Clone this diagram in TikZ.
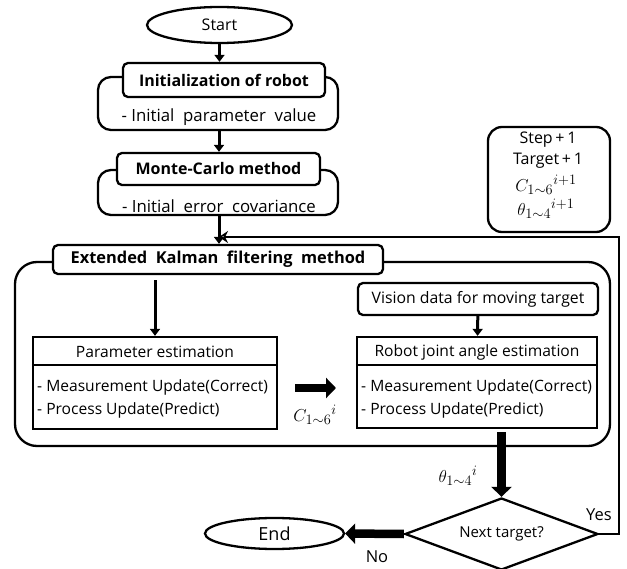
\documentclass[tikz,border=0pt]{standalone}
\usepackage{fontspec}
\setmainfont{Open Sans}
\usetikzlibrary{arrows.meta,shapes.geometric}
\newcommand{\fs}[1]{\fontsize{#1}{#1}\selectfont}
\begin{document}
\begin{tikzpicture}[x=1pt,y=-1pt,
  every node/.style={inner sep=0pt,font=\fs{15}},
  frame/.style={draw,line width=2.3pt,rounded corners=13pt},
  headbox/.style={draw,line width=2.3pt,rounded corners=5pt,fill=white,font=\bfseries\fs{16}},
  termbox/.style={draw,ellipse,line width=2.3pt},
  plainbox/.style={draw,line width=2.3pt},
  arr/.style={line width=3pt,-{Triangle[width=10pt,length=7pt]}},
  bigarr/.style={line width=8.5pt,-{Triangle[width=20pt,length=10pt]}},
  loopline/.style={line width=2.3pt,-{Stealth[width=12pt,length=9pt,open]}},
  txt/.style={font=\fs{16.8}},
  smalltxt/.style={font=\fs{15.6}},
  mathlab/.style={font=\fs{19}},
]
\useasboundingbox (0,0) rectangle (627,569);

% Start
\node[termbox,minimum width=145pt,minimum height=36pt,font=\fs{16}] (start) at (219.5,25) {Start};

% Initialization block
\node[frame,minimum width=240pt,minimum height=53pt] (initbox) at (218,103.5) {};
\node[headbox,minimum width=202pt,minimum height=34pt] (inithead) at (224,80) {Initialization of robot};
\node[txt] (inittxt) at (219,117) {-\ Initial\ \ parameter\ \ value};

% Monte-Carlo block
\node[frame,minimum width=240pt,minimum height=45pt] (mcbox) at (218,192.5) {};
\node[headbox,minimum width=203pt,minimum height=32pt] (mchead) at (218.5,169) {Monte-Carlo method};
\node[txt] (mctxt) at (219,206) {-\ Initial\ \ error\ \ covariance};

% Update box
\node[frame,rounded corners=14pt,minimum width=122pt,minimum height=105pt] (stepbox) at (549,179.5) {};
\node[font=\fs{16}] (s1) at (548,140) {Step\,+\,1};
\node[font=\fs{16}] (s2) at (548,161) {Target\,+\,1};
\node[mathlab] (s3) at (546,185) {${C_{1\sim 6}}^{i+1}$};
\node[mathlab] (s4) at (546,209) {${\theta_{1\sim 4}}^{i+1}$};

% Extended Kalman filter block
\node[frame,rounded corners=22pt,minimum width=595pt,minimum height=184pt] (ekfbox) at (312.5,354) {};
\node[headbox,minimum width=330pt,minimum height=29pt,font=\bfseries\fs{16.4}] (ekfhead) at (218,259.5) {Extended\ \ Kalman\ \ filtering\ \ method};

\node[draw,line width=2.3pt,rounded corners=5pt,minimum width=240pt,minimum height=32pt,font=\fs{15.8}] (vision) at (478,299) {Vision data for moving target};

% Parameter estimation
\node[plainbox,minimum width=244pt,minimum height=92pt] (param) at (155,383) {};
\draw[line width=2.3pt] (param.west |- 0,365) -- (param.east |- 0,365);
\node[smalltxt] (ptitle) at (155,352) {Parameter estimation};
\node[smalltxt,anchor=west] (pm) at (37,387) {-\ Measurement Update(Correct)};
\node[smalltxt,anchor=west] (pp) at (37,410) {-\ Process Update(Predict)};

% Robot joint angle estimation
\node[plainbox,minimum width=240pt,minimum height=91pt] (robot) at (477,382.5) {};
\draw[line width=2.3pt] (robot.west |- 0,365) -- (robot.east |- 0,365);
\node[smalltxt] (rtitle) at (477,352) {Robot joint angle estimation};
\node[smalltxt,anchor=west] (rm) at (361,387) {-\ Measurement Update(Correct)};
\node[smalltxt,anchor=west] (rp) at (361,410) {-\ Process Update(Predict)};

% Decision and end
\node[draw,diamond,line width=2.3pt,minimum width=193pt,minimum height=72pt,aspect=2.68,font=\fs{15}] (next) at (501.5,534) {Next target?};
\node[termbox,minimum width=139pt,minimum height=31pt,font=\fs{18}] (end) at (274.5,533.5) {End};

% Labels
\node[mathlab] (clab) at (315,415) {${C_{1\sim 6}}^{i}$};
\node[mathlab] (thlab) at (458,476) {${\theta_{1\sim 4}}^{i}$};
\node[font=\fs{16.5}] (yes) at (599,515) {Yes};
\node[font=\fs{16.5}] (no) at (377,557) {No};

% Connectors
\coordinate (pa1) at (295,388);
\coordinate (pa2) at (336,388);
\coordinate (loopR) at (619,237);
\coordinate (loopL) at (219,237);

\draw[arr] (start) -- (start |- inithead.north);
\draw[arr] (initbox.south -| 219,0) -- (mchead.north -| 219,0);
\draw[arr] (mcbox.south -| 219,0) -- (ekfhead.north -| 219,0);
\draw[arr] (ekfhead.south -| param.north) ++(0,5) -- (param.north);
\draw[arr] (vision) -- (robot);
\draw[bigarr] (pa1) -- (pa2);
\draw[bigarr] (robot.south -| next.north) ++(0,3) -- (next.north);
\draw[bigarr] (next.west) -- (end.east);
\draw[loopline] (next.east) -| (loopR) -- (loopL);
\end{tikzpicture}
\end{document}
